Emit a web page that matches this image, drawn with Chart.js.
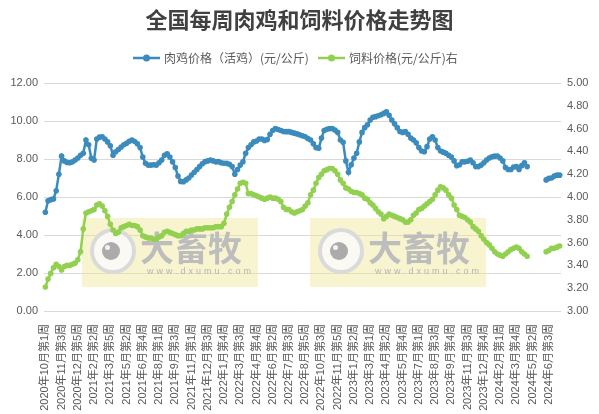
<!DOCTYPE html>
<html>
<head>
<meta charset="utf-8">
<script src="https://cdn.jsdelivr.net/npm/chart.js@4.4.1/dist/chart.umd.min.js"></script>
<style>
html,body{margin:0;padding:0;background:#ffffff;}
canvas{display:block;}
</style>
</head>
<body>
<canvas id="c" width="599" height="414"></canvas>
<script>
// ---------- data ----------
const chartTitle = '全国每周肉鸡和饲料价格走势图';
const seriesNames = ['肉鸡价格（活鸡）(元/公斤)', '饲料价格(元/公斤)右'];

const tickLabels = [
  '2020年10月第1周','2020年11月第3周','2020年12月第5周','2021年2月第2周','2021年3月第5周',
  '2021年5月第2周','2021年6月第4周','2021年8月第1周','2021年9月第3周','2021年11月第1周',
  '2021年12月第3周','2022年1月第4周','2022年3月第3周','2022年4月第4周','2022年6月第2周',
  '2022年7月第3周','2022年8月第5周','2022年10月第3周','2022年11月第5周','2023年1月第2周',
  '2023年3月第1周','2023年4月第2周','2023年5月第4周','2023年7月第1周','2023年8月第3周',
  '2023年9月第4周','2023年11月第3周','2023年12月第4周','2024年2月第1周','2024年3月第4周',
  '2024年5月第2周','2024年6月第3周'
];
const tickEvery = 6;       // one visible label every 6 weekly categories
const weekCount = 191;     // weekly categories on the axis

// 肉鸡价格（活鸡）元/公斤 (left axis)
const chickenPrice = [
  5.2, 5.8, 5.86, 5.9, 6.33, 7.2, 8.15, 7.9, 7.82, 7.8,
  7.85, 7.95, 8.05, 8.2, 8.3, 9.0, 8.75, 8.04, 7.95, 9.05,
  9.15, 9.17, 9.05, 8.9, 8.7, 8.2, 8.38, 8.5, 8.63, 8.75,
  8.83, 8.93, 9.0, 8.92, 8.8, 8.6, 8.1, 7.78, 7.68, 7.68,
  7.7, 7.68, 7.8, 7.95, 8.2, 8.28, 8.1, 7.85, 7.55, 7.1,
  6.82, 6.8, 6.9, 7.0, 7.16, 7.3, 7.45, 7.6, 7.75, 7.86,
  7.9, 7.95, 7.9, 7.85, 7.86, 7.8, 7.78, 7.77, 7.72, 7.6,
  7.2, 7.45, 7.68, 7.85, 8.3, 8.6, 8.75, 8.9, 8.95, 9.05,
  9.05, 8.98, 9.02, 9.3, 9.5, 9.6, 9.55, 9.5, 9.45, 9.44,
  9.44, 9.4, 9.36, 9.32, 9.27, 9.22, 9.17, 9.08, 9.0, 8.8,
  8.6, 8.56, 9.1, 9.5, 9.56, 9.6, 9.6, 9.52, 9.4, 9.0,
  8.88, 7.9, 7.3, 7.7, 8.05, 8.3, 8.9, 9.4, 9.65, 9.8,
  10.05, 10.2, 10.23, 10.28, 10.33, 10.4, 10.48, 10.3, 10.05, 9.85,
  9.65, 9.45, 9.4, 9.44, 9.3, 9.1, 9.0, 8.85, 8.6, 8.42,
  8.38, 8.65, 9.05, 9.17, 9.0, 8.6, 8.42, 8.36, 8.3, 8.2,
  8.1, 7.9, 7.65, 7.7, 7.85, 7.85, 7.88, 7.95, 7.8, 7.6,
  7.6, 7.68, 7.8, 7.95, 8.05, 8.12, 8.15, 8.16, 8.05, 7.9,
  7.55, 7.45, 7.45, 7.58, 7.6, 7.45, 7.65, 7.8, 7.6,
  null, null, null, null, null, null,
  6.9, 6.98, 7.0, 7.1, 7.15, 7.15
];

// 饲料价格 元/公斤 (right axis)
const feedPrice = [
  3.21, 3.28, 3.33, 3.38, 3.41, 3.39, 3.36, 3.39, 3.40, 3.40,
  3.41, 3.42, 3.45, 3.52, 3.72, 3.86, 3.87, 3.88, 3.89, 3.93,
  3.94, 3.92, 3.88, 3.83, 3.76, 3.71, 3.68, 3.69, 3.73, 3.74,
  3.75, 3.76, 3.75, 3.75, 3.74, 3.71, 3.66, 3.65, 3.64, 3.64,
  3.63, 3.63, 3.65, 3.66, 3.69, 3.70, 3.69, 3.68, 3.67, 3.66,
  3.66, 3.68, 3.70, 3.70, 3.71, 3.71, 3.72, 3.72, 3.72, 3.73,
  3.73, 3.73, 3.73, 3.74, 3.74, 3.74, 3.77, 3.85, 3.91, 3.96,
  4.02, 4.07, 4.12, 4.13, 4.12, 4.03, 4.03, 4.02, 4.01, 4.00,
  3.99, 3.98, 3.99, 4.00, 3.99, 3.99, 3.98, 3.96, 3.91, 3.89,
  3.89, 3.87, 3.86, 3.87, 3.88, 3.89, 3.92, 3.95, 4.02, 4.06,
  4.12, 4.17, 4.20, 4.23, 4.24, 4.25, 4.25, 4.23, 4.20, 4.15,
  4.12, 4.08, 4.07, 4.05, 4.04, 4.04, 4.03, 4.02, 3.99, 3.98,
  3.95, 3.93, 3.90, 3.87, 3.85, 3.81, 3.83, 3.85, 3.84, 3.83,
  3.82, 3.81, 3.80, 3.78, 3.78, 3.80, 3.84, 3.86, 3.89, 3.90,
  3.92, 3.94, 3.96, 3.98, 4.02, 4.06, 4.09, 4.08, 4.06, 4.02,
  3.99, 3.93, 3.89, 3.84, 3.83, 3.82, 3.80, 3.78, 3.74, 3.72,
  3.70, 3.66, 3.63, 3.60, 3.58, 3.55, 3.52, 3.50, 3.49, 3.48,
  3.50, 3.52, 3.54, 3.55, 3.56, 3.55, 3.52, 3.50, 3.48,
  null, null, null, null, null, null,
  3.52, 3.53, 3.55, 3.55, 3.56, 3.57
];

// category labels: visible tick labels at every 6th week, others blank
const categories = [];
for (let i = 0; i < weekCount; i++) {
  categories.push(i % tickEvery === 0 ? (tickLabels[i / tickEvery] || '') : '');
}

// ---------- styling ----------
const BLUE = '#3b8bbd';
const GREEN = '#92d050';
const TXT = '#595959';
const FAM = '"Liberation Sans", "Noto Sans CJK SC", Arial, sans-serif';
const CJK = '"Noto Sans CJK SC", "Liberation Sans", sans-serif';

function drawWatermark(ctx, x, y) {
  const w = 176, h = 69;
  ctx.save();
  ctx.fillStyle = 'rgba(238,228,140,0.42)';
  ctx.fillRect(x, y, w, h);
  // logo ring
  ctx.beginPath();
  ctx.arc(x + 31, y + 33, 21, 0, Math.PI * 2);
  ctx.fillStyle = 'rgba(250,250,250,0.85)';
  ctx.fill();
  ctx.lineWidth = 4;
  ctx.strokeStyle = '#dadada';
  ctx.stroke();
  ctx.beginPath();
  ctx.arc(x + 29, y + 33, 9, 0, Math.PI * 2);
  ctx.fillStyle = '#ababab';
  ctx.fill();
  ctx.beginPath();
  ctx.arc(x + 25.5, y + 29.5, 2.5, 0, Math.PI * 2);
  ctx.fillStyle = '#f2f2f2';
  ctx.fill();
  // text
  ctx.fillStyle = '#bdbdbd';
  ctx.font = 'bold 34px ' + CJK;
  ctx.textBaseline = 'middle';
  ctx.textAlign = 'left';
  ctx.fillText('大畜牧', x + 58, y + 30);
  ctx.font = '9px ' + FAM;
  ctx.fillStyle = '#b5b5b5';
  try { ctx.letterSpacing = '3px'; } catch (e) {}
  ctx.fillText('www.dxumu.com', x + 65, y + 54);
  ctx.restore();
}

const decor = {
  id: 'decor',
  beforeDatasetsDraw(chart) {
    const ctx = chart.ctx;
    drawWatermark(ctx, 82, 218);
    drawWatermark(ctx, 310, 218);
  },
  afterDraw(chart) {
    const ctx = chart.ctx;
    ctx.save();
    // title
    ctx.fillStyle = '#404040';
    ctx.font = 'bold 22px ' + CJK;
    ctx.textAlign = 'center';
    ctx.textBaseline = 'middle';
    ctx.fillText(chartTitle, 299.5, 20);
    // legend
    const items = [
      { x: 133, color: BLUE, text: seriesNames[0] },
      { x: 318, color: GREEN, text: seriesNames[1] }
    ];
    const ly = 58;
    ctx.font = '12px ' + CJK;
    ctx.textAlign = 'left';
    items.forEach(it => {
      ctx.strokeStyle = it.color;
      ctx.lineWidth = 2.5;
      ctx.beginPath();
      ctx.moveTo(it.x, ly);
      ctx.lineTo(it.x + 27, ly);
      ctx.stroke();
      ctx.beginPath();
      ctx.arc(it.x + 13.5, ly, 3.5, 0, Math.PI * 2);
      ctx.fillStyle = it.color;
      ctx.fill();
      ctx.fillStyle = TXT;
      ctx.fillText(it.text, it.x + 31, ly + 0.5);
    });
    ctx.restore();
  }
};

new Chart(document.getElementById('c'), {
  type: 'line',
  data: {
    labels: categories,
    datasets: [
      {
        label: seriesNames[0],
        data: chickenPrice,
        yAxisID: 'y',
        borderColor: BLUE,
        backgroundColor: BLUE,
        borderWidth: 2.5,
        pointRadius: 2.8,
        pointBorderWidth: 0,
        pointBackgroundColor: BLUE,
        tension: 0,
        spanGaps: false
      },
      {
        label: seriesNames[1],
        data: feedPrice,
        yAxisID: 'y1',
        borderColor: GREEN,
        backgroundColor: GREEN,
        borderWidth: 2.5,
        pointRadius: 2.8,
        pointBorderWidth: 0,
        pointBackgroundColor: GREEN,
        tension: 0,
        spanGaps: false
      }
    ]
  },
  options: {
    responsive: false,
    animation: false,
    devicePixelRatio: 1,
    layout: { padding: { top: 83, left: 0, right: 0, bottom: 0 } },
    plugins: {
      legend: { display: false },
      title: { display: false },
      tooltip: { enabled: false }
    },
    scales: {
      x: {
        type: 'category',
        offset: true,
        grid: { display: false },
        border: { display: false },
        ticks: {
          autoSkip: false,
          minRotation: 90,
          maxRotation: 90,
          padding: 5,
          color: TXT,
          font: { size: 11, family: FAM }
        },
        afterFit(s) { s.height = 103; }
      },
      y: {
        position: 'left',
        min: 0,
        max: 12,
        ticks: {
          stepSize: 2,
          padding: 6,
          color: TXT,
          font: { size: 11, family: FAM },
          callback: v => Number(v).toFixed(2)
        },
        grid: { color: '#d9d9d9', drawTicks: false, lineWidth: 1 },
        border: { display: false },
        afterFit(s) { s.width = 44; }
      },
      y1: {
        position: 'right',
        min: 3,
        max: 5,
        ticks: {
          stepSize: 0.2,
          padding: 6,
          color: TXT,
          font: { size: 11, family: FAM },
          callback: v => Number(v).toFixed(2)
        },
        grid: { display: false, drawTicks: false },
        border: { display: false },
        afterFit(s) { s.width = 38; }
      }
    }
  },
  plugins: [decor]
});
</script>
</body>
</html>
